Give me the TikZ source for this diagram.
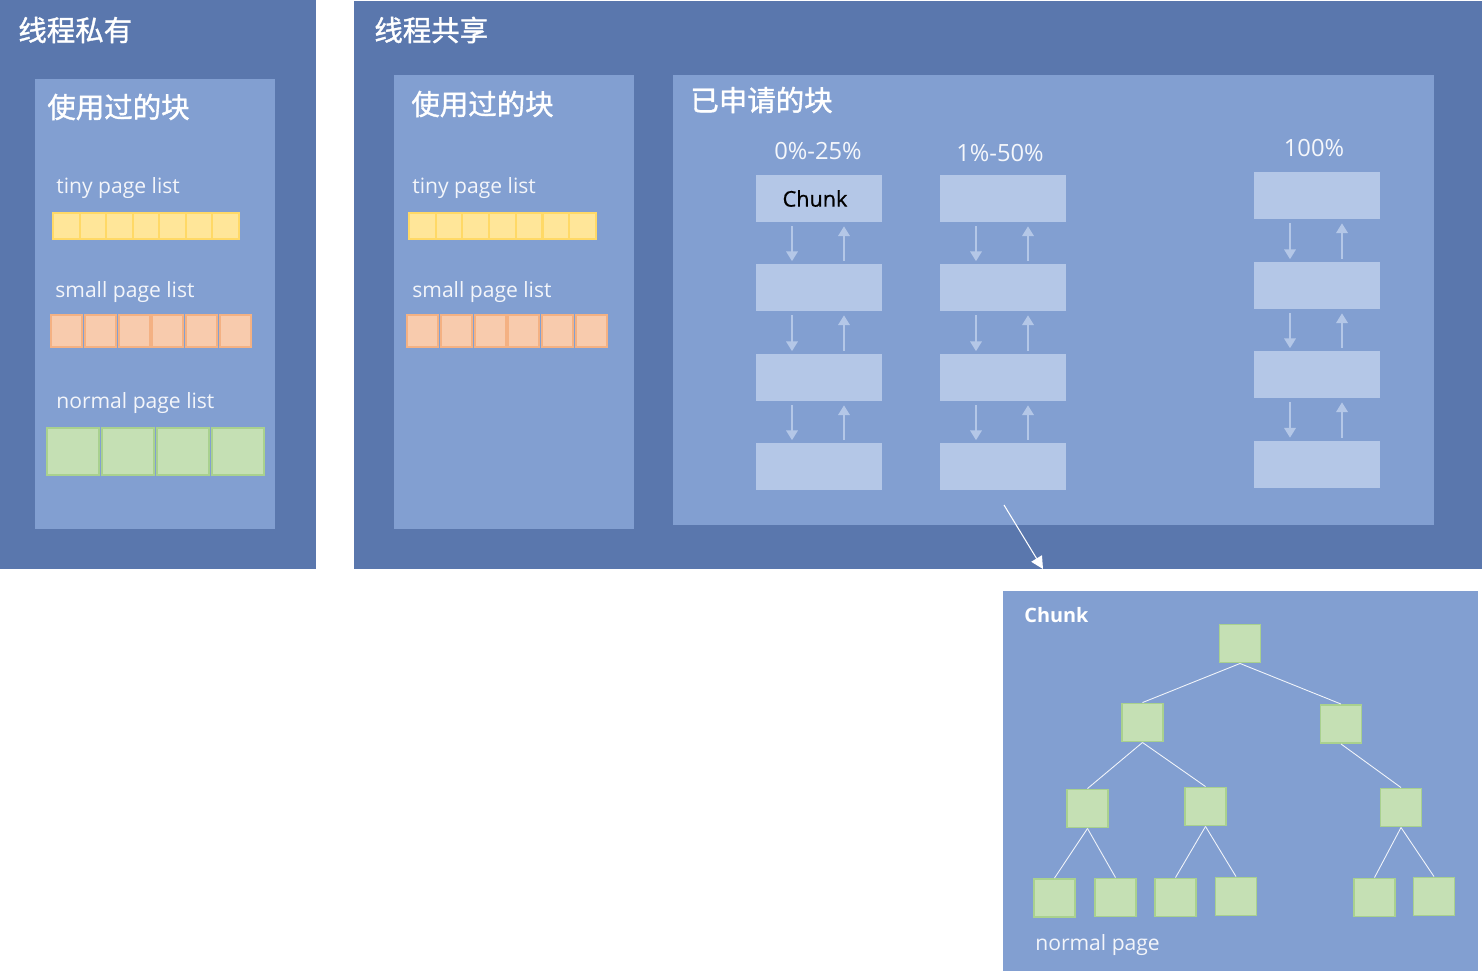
\documentclass[tikz,border=0pt]{standalone}
\usepackage{fontspec}
\setmainfont{Open Sans}
\newfontfamily\cjkfont[FakeBold=1.3]{Noto Sans CJK SC}
\newfontfamily\chunkfont[FakeBold=0.8]{Open Sans}
\usetikzlibrary{arrows.meta, positioning, calc}

\definecolor{outerblue}{HTML}{5A77AD}
\definecolor{innerblue}{HTML}{829FD1}
\definecolor{chunkblue}{HTML}{B4C7E7}
\definecolor{tinyfill}{HTML}{FFE699}
\definecolor{tinyline}{HTML}{FFD966}
\definecolor{smallfill}{HTML}{F8CBAD}
\definecolor{smallline}{HTML}{F4B183}
\definecolor{pagefill}{HTML}{C5E0B4}
\definecolor{pageline}{HTML}{A9D18E}

\tikzset{
  heading/.style={anchor=west, text=white, inner sep=0pt, font=\cjkfont\fontsize{16.2}{19}\selectfont},
  listlabel/.style={anchor=west, text=white!90!innerblue, inner sep=0pt, yshift=-0.04cm, font=\fontsize{12}{14}\selectfont},
  pctlabel/.style={text=white!92!innerblue, inner sep=0pt, font=\fontsize{13.5}{15}\selectfont},
  tinypage/.style={fill=tinyfill, draw=tinyline, line width=1.1pt, minimum width=0.53cm, minimum height=0.52cm, inner sep=0pt},
  smallpage/.style={fill=smallfill, draw=smallline, line width=1.1pt, minimum width=0.62cm, minimum height=0.64cm, inner sep=0pt},
  normalpage/.style={fill=pagefill, draw=pageline, line width=1.1pt, minimum width=1.04cm, minimum height=0.94cm, inner sep=0pt},
  treepage/.style={fill=pagefill, draw=pageline, line width=1.1pt, minimum width=0.82cm, minimum height=0.76cm, inner sep=0pt},
  chunkbox/.style={fill=chunkblue, draw=none, minimum width=2.54cm, minimum height=0.94cm, inner sep=0pt},
  link/.style={draw=chunkblue, line width=1.1pt, -{Triangle[width=6.5pt,length=5.5pt]}},
  branch/.style={draw=white!90!innerblue, line width=0.5pt},
}

\begin{document}
\begin{tikzpicture}[x=0.02cm, y=-0.02cm]
\useasboundingbox (0,0) rectangle (1482,971);

% --- Thread private ---
\fill[outerblue] (0,0) rectangle (316,569);
\node[heading] (privtitle) at (18,30) {线程私有};
\fill[innerblue] (35,79) rectangle (275,529);
\node[heading] (privused) at (47,107) {使用过的块};

\node[listlabel] (privtiny) at (56,186) {tiny page list};
\foreach \i in {0,...,6}
  \node[tinypage] (pt\i) at (66.3+26.57*\i, 226) {};

\node[listlabel] (privsmall) at (55,290) {small page list};
\foreach \i in {0,...,5}
  \node[smallpage] (ps\i) at (66.5+33.8*\i, 331) {};

\node[listlabel] (privnormal) at (56,401) {normal page list};
\foreach \i in {0,...,3}
  \node[normalpage] (pn\i) at (73+55*\i, 451.5) {};

% --- Thread shared ---
\fill[outerblue] (354,1) rectangle (1482,569);
\node[heading] (sharetitle) at (374,30) {线程共享};

\fill[innerblue] (394,75) rectangle (634,529);
\node[heading] (shareused) at (411,104) {使用过的块};
\node[listlabel] (sharetiny) at (412,186) {tiny page list};
\foreach \i in {0,...,6}
  \node[tinypage] (st\i) at (422.3+26.7*\i, 226) {};
\node[listlabel] (sharesmall) at (412,290) {small page list};
\foreach \i in {0,...,5}
  \node[smallpage] (ss\i) at (422.5+33.8*\i, 331) {};

% --- Requested chunks ---
\fill[innerblue] (673,75) rectangle (1434,525);
\node[heading] (reqtitle) at (690,100) {已申请的块};

\node[pctlabel] (pct1) at (818,151) {0\%-25\%};
\node[pctlabel] (pct2) at (1000,153) {1\%-50\%};
\node[pctlabel] (pct3) at (1314,148) {100\%};

\foreach \c/\x/\ya/\yb/\yc/\yd in {1/819/198.5/287.5/377.5/466.5, 2/1003/198.5/287.5/377.5/466.5, 3/1317/195.5/285.5/374.5/464} {
  \node[chunkbox] (q\c1) at (\x,\ya) {};
  \node[chunkbox] (q\c2) at (\x,\yb) {};
  \node[chunkbox] (q\c3) at (\x,\yc) {};
  \node[chunkbox] (q\c4) at (\x,\yd) {};
  \foreach \r/\s in {1/2, 2/3, 3/4} {
    \draw[link] ([xshift=-0.54cm, yshift=-0.08cm]q\c\r.south) -- ([xshift=-0.54cm, yshift=0.05cm]q\c\s.north);
    \draw[link] ([xshift=0.5cm, yshift=0.05cm]q\c\s.north) -- ([xshift=0.5cm, yshift=-0.08cm]q\c\r.south);
  }
}
\node[font=\chunkfont\fontsize{12.3}{14}\selectfont, text=black] (chunkname) at ([xshift=-0.08cm]q11) {Chunk};

% --- Pointer to chunk detail ---
\coordinate (zoomfrom) at (1004,505);
\coordinate (zoomto) at (1043,569);
\draw[white, line width=0.6pt, -{Triangle[width=7pt,length=7pt]}] (zoomfrom) -- (zoomto);

% --- Chunk detail ---
\fill[innerblue] (1003,591) rectangle (1478,971);
\node[anchor=west, text=white, inner sep=0pt, font=\fontsize{11.3}{13}\selectfont\bfseries] (detailtitle) at (1024,615) {Chunk};

\node[treepage] (root) at (1240,643.5) {};
\node[treepage] (l1a) at (1142.5,722.5) {};
\node[treepage] (l1b) at (1341,724) {};
\node[treepage] (l2a) at (1087.5,808.5) {};
\node[treepage] (l2b) at (1205.5,806.5) {};
\node[treepage] (l2c) at (1401,807.5) {};
\node[treepage] (l3a) at (1054.5,898) {};
\node[treepage] (l3b) at (1115.5,897.5) {};
\node[treepage] (l3c) at (1175.5,897.5) {};
\node[treepage] (l3d) at (1236,896.5) {};
\node[treepage] (l3e) at (1374.5,897.5) {};
\node[treepage] (l3f) at (1434,896.5) {};

\foreach \p/\k in {root/l1a, root/l1b, l1a/l2a, l1a/l2b, l1b/l2c, l2a/l3a, l2a/l3b, l2b/l3c, l2b/l3d, l2c/l3e, l2c/l3f}
  \draw[branch] (\p.south) -- (\k.north);

\node[listlabel] (pagename) at (1035,943) {normal page};

\end{tikzpicture}
\end{document}
